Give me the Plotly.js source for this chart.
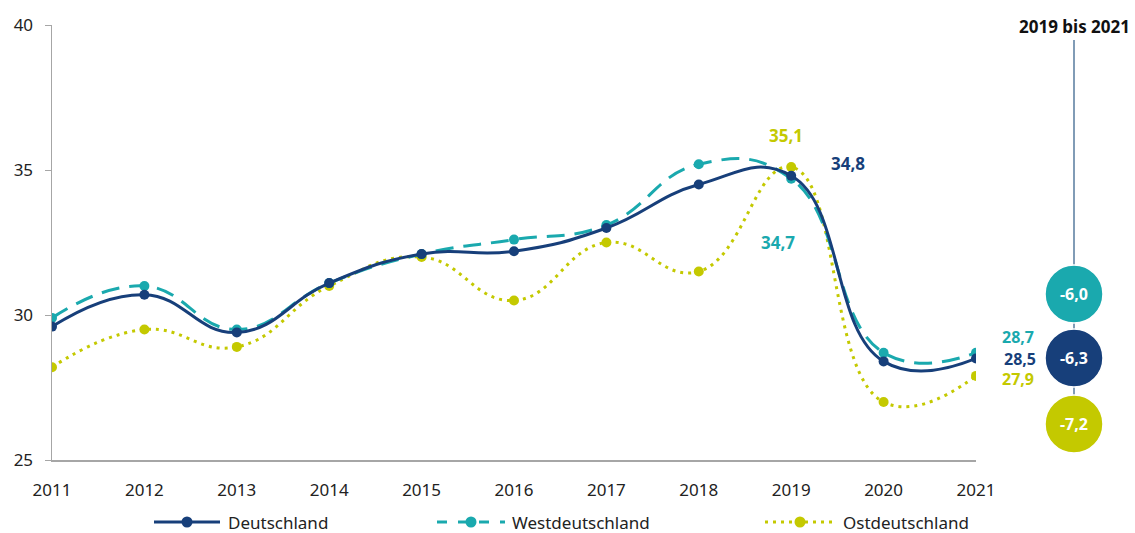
<!DOCTYPE html>
<html>
<head>
<meta charset="utf-8">
<script src="https://cdn.plot.ly/plotly-3.0.1.min.js"></script>
<style>html,body{margin:0;padding:0;background:#fff;}#chart{width:1135px;height:533px;}</style>
</head>
<body>
<div id="chart"></div>
<script>
const years = [2011, 2012, 2013, 2014, 2015, 2016, 2017, 2018, 2019, 2020, 2021];
const deutschland = [29.6, 30.7, 29.4, 31.1, 32.1, 32.2, 33.0, 34.5, 34.8, 28.4, 28.5];
const westdeutschland = [29.9, 31.0, 29.5, 31.1, 32.1, 32.6, 33.1, 35.2, 34.7, 28.7, 28.7];
const ostdeutschland = [28.2, 29.5, 28.9, 31.0, 32.0, 30.5, 32.5, 31.5, 35.1, 27.0, 27.9];
const seriesNames = ["Deutschland", "Westdeutschland", "Ostdeutschland"];
const changeTitle = "2019 bis 2021";
const changes = ["-6,3", "-6,0", "-7,2"]; // Deutschland, West, Ost
const label2019 = ["34,8", "34,7", "35,1"];
const label2021 = ["28,5", "28,7", "27,9"];
const yTicks = [25, 30, 35, 40];

const NAVY = "#173f7a", TEAL = "#1aa9ae", LIME = "#c4c900";
const FONT = "'Noto Sans', 'Source Sans Pro', sans-serif";

const mk = (name, y, color, dash) => ({
  x: years, y: y, name: name, type: "scatter", mode: "lines+markers",
  line: {color: color, width: 3, shape: "spline", smoothing: 1.3, dash: dash},
  marker: {color: color, size: 10}, showlegend: false, hoverinfo: "x+y"
});

const data = [
  mk(seriesNames[2], ostdeutschland, LIME, "3px,5px"),
  mk(seriesNames[1], westdeutschland, TEAL, "18px,10px"),
  mk(seriesNames[0], deutschland, NAVY, "solid")
];

// pixel -> paper helpers (plot area: x 52..976, y 25..460)
const PX = px => (px - 52) / 924;
const PY = py => (460 - py) / 435;

const annotations = [];
const lbl = (x, y, txt, c, xs, ys, sz) => annotations.push({x: x, y: y, text: "<b>" + txt + "</b>", showarrow: false,
  xanchor: "center", yanchor: "middle", xshift: xs, yshift: ys, font: {family: FONT, size: sz, color: c}});
lbl(2019, deutschland[8], label2019[0], NAVY, 57, 12, 17);
lbl(2019, westdeutschland[8], label2019[1], TEAL, -13, -64, 17);
lbl(2019, ostdeutschland[8], label2019[2], LIME, -5, 32, 17);
lbl(2021, westdeutschland[10], label2021[1], TEAL, 42, 16, 16);
lbl(2021, deutschland[10], label2021[0], NAVY, 44, 0, 16);
lbl(2021, ostdeutschland[10], label2021[2], LIME, 42, -3, 16);

annotations.push({xref: "paper", yref: "paper", x: PX(1074), y: PY(27), xanchor: "center", yanchor: "middle",
  text: "<b>" + changeTitle + "</b>", showarrow: false, font: {family: FONT, size: 17, color: "#111"}});

const circles = [
  {py: 294, color: TEAL, txt: changes[1]},
  {py: 358, color: NAVY, txt: changes[0]},
  {py: 424, color: LIME, txt: changes[2]}
];
const shapes = [];
shapes.push({type: "line", xref: "paper", yref: "paper", x0: PX(1074), x1: PX(1074), y0: PY(40), y1: PY(424), line: {color: "#2d5a85", width: 1.2}});
circles.forEach(c => {
  shapes.push({type: "circle", xref: "paper", yref: "paper", xsizemode: "pixel", ysizemode: "pixel",
    xanchor: PX(1074), yanchor: PY(c.py), x0: -29, x1: 29, y0: -29, y1: 29,
    fillcolor: c.color, line: {color: "#ffffff", width: 1.5}});
  annotations.push({xref: "paper", yref: "paper", x: PX(1074), y: PY(c.py), xanchor: "center", yanchor: "middle",
    text: "<b>" + c.txt + "</b>", showarrow: false, font: {family: FONT, size: 16, color: "#ffffff"}});
});

// custom legend
const legendItems = [
  {name: seriesNames[0], color: NAVY, dash: "solid", x0: 154, x1: 220, tx: 226},
  {name: seriesNames[1], color: TEAL, dash: "10px,11px", x0: 437, x1: 505, tx: 510},
  {name: seriesNames[2], color: LIME, dash: "3px,5px", x0: 765, x1: 835, tx: 841}
];
const LY = PY(522);
legendItems.forEach(it => {
  shapes.push({type: "line", xref: "paper", yref: "paper", x0: PX(it.x0), x1: PX(it.x1), y0: LY, y1: LY, line: {color: it.color, width: 3, dash: it.dash}});
  const cx = (it.x0 + it.x1) / 2;
  shapes.push({type: "circle", xref: "paper", yref: "paper", xsizemode: "pixel", ysizemode: "pixel",
    xanchor: PX(cx), yanchor: LY, x0: -5.5, x1: 5.5, y0: -5.5, y1: 5.5, fillcolor: it.color, line: {width: 0}});
  annotations.push({xref: "paper", yref: "paper", x: PX(it.tx), y: LY, xanchor: "left", yanchor: "middle",
    text: it.name, showarrow: false, font: {family: FONT, size: 17, color: "#222"}});
});

const layout = {
  width: 1135, height: 533,
  margin: {l: 52, r: 159, t: 25, b: 73},
  paper_bgcolor: "#ffffff", plot_bgcolor: "#ffffff",
  font: {family: FONT, size: 17, color: "#222"},
  xaxis: {range: [2011, 2021], tickvals: years, ticktext: years.map(String), showgrid: false, zeroline: false,
    showline: true, linecolor: "#a6a6a6", linewidth: 1.5, ticks: "outside", ticklen: 14, tickcolor: "rgba(0,0,0,0)",
    tickfont: {family: FONT, size: 17, color: "#222"}, fixedrange: true},
  yaxis: {range: [25, 40], tickvals: yTicks, showgrid: false, zeroline: false,
    showline: true, linecolor: "#a6a6a6", linewidth: 1.5, ticks: "outside", ticklen: 6, tickcolor: "#a6a6a6",
    ticklabelstandoff: 8, tickfont: {family: FONT, size: 17, color: "#222"}, fixedrange: true},
  shapes: shapes,
  annotations: annotations,
  showlegend: false
};

Plotly.newPlot("chart", data, layout, {displayModeBar: false, staticPlot: true});
</script>
</body>
</html>
